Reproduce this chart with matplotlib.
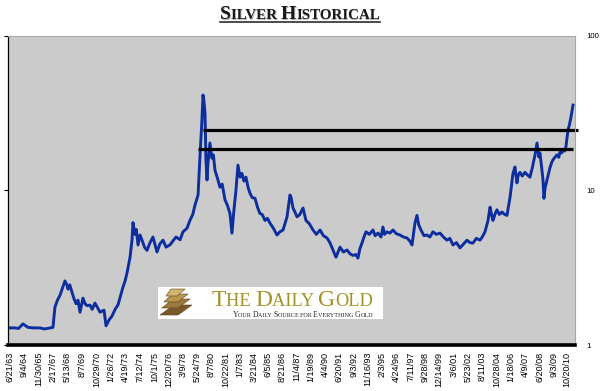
import matplotlib
matplotlib.use('Agg')
import matplotlib.pyplot as plt
from matplotlib.patches import Rectangle, Polygon
from datetime import datetime

# silver price (decimal year, $/oz)
years = [1963.30, 1963.89, 1964.20, 1964.57, 1965.00, 1965.50, 1966.02, 1966.40, 1966.87, 1967.12,
         1967.29, 1967.50, 1967.72, 1967.90, 1968.14, 1968.30, 1968.40, 1968.55, 1968.74, 1968.90,
         1969.08, 1969.25, 1969.42, 1969.67, 1969.85, 1970.01, 1970.27, 1970.45, 1970.69, 1970.90,
         1971.12, 1971.46, 1971.63, 1971.88, 1972.14, 1972.40, 1972.65, 1973.07, 1973.25, 1973.41,
         1973.67, 1973.84, 1973.92, 1974.09, 1974.20, 1974.35, 1974.52, 1974.69, 1974.90, 1975.11,
         1975.37, 1975.62, 1975.96, 1976.20, 1976.47, 1976.73, 1977.07, 1977.30, 1977.58, 1977.92,
         1978.17, 1978.51, 1978.76, 1979.00, 1979.19, 1979.45, 1979.61, 1979.78, 1979.87, 1979.95,
         1980.04, 1980.12, 1980.21, 1980.29, 1980.46, 1980.63, 1980.75, 1980.89, 1981.10, 1981.31,
         1981.50, 1981.74, 1981.95, 1982.16, 1982.33, 1982.50, 1982.67, 1982.84, 1983.02, 1983.18,
         1983.35, 1983.52, 1983.70, 1983.86, 1984.05, 1984.29, 1984.50, 1984.71, 1984.90, 1985.14,
         1985.35, 1985.56, 1985.85, 1986.16, 1986.40, 1986.67, 1987.01, 1987.26, 1987.35, 1987.52,
         1987.70, 1987.86, 1988.10, 1988.37, 1988.62, 1988.90, 1989.22, 1989.50, 1989.81, 1990.10,
         1990.41, 1990.65, 1990.91, 1991.17, 1991.35, 1991.51, 1991.80, 1992.11, 1992.35, 1992.61,
         1992.85, 1993.04, 1993.20, 1993.38, 1993.55, 1993.72, 1994.00, 1994.31, 1994.50, 1994.74,
         1995.00, 1995.16, 1995.30, 1995.50, 1995.75, 1996.01, 1996.30, 1996.61, 1996.90, 1997.20,
         1997.45, 1997.63, 1997.88, 1998.05, 1998.20, 1998.39, 1998.65, 1998.91, 1999.15, 1999.41,
         1999.70, 2000.01, 2000.30, 2000.60, 2000.85, 2001.11, 2001.40, 2001.71, 2002.00, 2002.30,
         2002.55, 2002.81, 2003.10, 2003.40, 2003.60, 2003.83, 2004.09, 2004.26, 2004.40, 2004.51,
         2004.70, 2004.85, 2005.05, 2005.28, 2005.50, 2005.70, 2005.96, 2006.21, 2006.38, 2006.55,
         2006.65, 2006.80, 2007.00, 2007.23, 2007.45, 2007.65, 2007.85, 2008.08, 2008.25, 2008.40,
         2008.50, 2008.65, 2008.76, 2008.84, 2008.95, 2009.10, 2009.25, 2009.35, 2009.50, 2009.61,
         2009.80, 2009.95, 2010.10, 2010.20, 2010.35, 2010.46, 2010.60, 2010.71, 2010.88, 2011.00,
         2011.14, 2011.31]
price = [1.29, 1.29, 1.28, 1.37, 1.30, 1.29, 1.29, 1.27, 1.29, 1.30,
         1.76, 1.95, 2.10, 2.30, 2.60, 2.45, 2.30, 2.45, 2.20, 2.00,
         1.85, 1.95, 1.63, 2.01, 1.85, 1.80, 1.81, 1.70, 1.87, 1.75,
         1.63, 1.68, 1.33, 1.45, 1.54, 1.70, 1.82, 2.37, 2.60, 2.92,
         3.70, 4.80, 6.20, 5.20, 5.60, 4.44, 5.15, 4.77, 4.30, 4.10,
         4.60, 5.00, 4.00, 4.50, 4.77, 4.30, 4.45, 4.70, 5.00, 4.80,
         5.40, 5.70, 6.40, 7.00, 8.05, 9.35, 16.5, 28.5, 41.5, 38.0,
         31.7, 15.8, 11.7, 15.0, 20.3, 16.2, 17.0, 13.5, 12.0, 10.5,
         11.0, 8.70, 8.00, 7.10, 5.30, 7.50, 10.0, 14.6, 12.2, 12.9,
         11.5, 12.2, 10.5, 9.60, 9.00, 8.90, 7.80, 7.10, 7.00, 6.40,
         6.60, 6.15, 5.70, 5.15, 5.40, 5.55, 6.75, 9.35, 9.05, 7.70,
         7.20, 6.75, 7.00, 7.70, 6.40, 6.10, 5.55, 5.20, 5.55, 5.10,
         4.93, 4.60, 4.12, 3.70, 4.00, 4.30, 4.00, 4.12, 3.90, 3.80,
         3.85, 3.65, 4.20, 4.57, 5.00, 5.40, 5.20, 5.55, 5.10, 5.30,
         5.00, 5.80, 5.20, 5.40, 5.30, 5.55, 5.25, 5.15, 5.00, 4.93,
         4.70, 4.44, 6.15, 6.90, 6.00, 5.55, 5.10, 5.15, 5.00, 5.40,
         5.20, 5.30, 5.00, 4.77, 4.90, 4.44, 4.60, 4.25, 4.50, 4.77,
         4.60, 4.57, 4.90, 4.77, 5.00, 5.40, 6.40, 7.80, 6.90, 6.40,
         7.10, 7.50, 7.00, 7.25, 7.00, 6.90, 9.05, 12.9, 14.2, 11.2,
         12.5, 13.1, 12.4, 13.1, 12.6, 12.2, 14.0, 17.0, 20.3, 16.5,
         17.5, 14.0, 11.7, 8.90, 10.5, 11.7, 13.0, 14.0, 15.2, 15.8,
         16.5, 17.0, 16.4, 17.7, 17.5, 18.3, 18.0, 19.2, 24.6, 26.5,
         29.9, 35.7]

date_labels = ['6/21/63', '9/4/64', '11/30/65', '2/17/67', '5/13/68', '8/7/69', '10/29/70', '1/26/72',
               '4/19/73', '7/12/74', '10/1/75', '12/20/76', '3/9/78', '5/24/79', '8/7/80', '10/22/81',
               '1/7/83', '3/21/84', '6/5/85', '8/21/86', '11/4/87', '1/19/89', '4/4/90', '6/20/91',
               '9/3/92', '11/16/93', '2/3/95', '4/24/96', '7/11/97', '9/28/98', '12/14/99', '3/6/01',
               '5/23/02', '8/11/03', '10/28/04', '1/18/06', '4/9/07', '6/20/08', '9/3/09', '10/20/10']

# resistance lines: (level, start year, end year)
res_upper = (24.6, 1979.87, 2011.73)
res_lower = (18.6, 1979.45, 2011.31)


def dec_year(s):
    d = datetime.strptime(s, '%m/%d/%y')
    if d.year > 2011:
        d = d.replace(year=d.year - 100)
    start = datetime(d.year, 1, 1)
    return d.year + (d - start).days / 365.25


tick_pos = [dec_year(s) for s in date_labels]

W, H = 600, 391
fig = plt.figure(figsize=(6, 3.91), dpi=100)
ax = fig.add_axes([8 / W, 1 - 345 / H, 567 / W, 309 / H])
ax.set_facecolor('#cbcbcb')

ax.plot(years, price, color='#0c2e9e', lw=2.1, solid_joinstyle='round')
ax.hlines(res_upper[0], res_upper[1], res_upper[2], color='black', lw=2.3, clip_on=False)
ax.hlines(res_lower[0], res_lower[1], res_lower[2], color='black', lw=2.3, clip_on=False)

ax.set_yscale('log')
ax.set_ylim(1, 100)
ax.set_xlim(1963.30, 2011.48)
ax.set_yticks([1, 10, 100])
ax.set_yticklabels(['1', '10', '100'])
ax.yaxis.set_minor_locator(matplotlib.ticker.NullLocator())
ax.tick_params(axis='y', left=True, right=False, labelleft=False, labelright=True,
               direction='out', length=3, width=0.8, pad=5.5, labelsize=5.6)
ax.set_xticks(tick_pos)
ax.set_xticklabels(date_labels, rotation=90, fontsize=6.5, family='Liberation Sans')
ax.tick_params(axis='x', length=0, pad=5)
for lab in ax.get_yticklabels():
    lab.set_family('Liberation Sans')

ax.spines['bottom'].set_linewidth(2.6)
ax.spines['bottom'].set_color('black')
ax.spines['left'].set_linewidth(0.9)
ax.spines['top'].set_color('#a8a8a8')
ax.spines['right'].set_color('#a8a8a8')
ax.spines['top'].set_linewidth(0.8)
ax.spines['right'].set_linewidth(0.8)


def small_caps(pieces, x0, y0, color, family, weight='normal'):
    # pieces: list of (text, size); x0,y0 in pixels (y from top), baseline
    fig.canvas.draw()
    r = fig.canvas.get_renderer()
    x = x0
    for txt, size in pieces:
        t = fig.text(x / W, 1 - y0 / H, txt, fontsize=size, color=color, family=family,
                     weight=weight, va='baseline', ha='left')
        x += t.get_window_extent(renderer=r).width
    return x


def width_of(pieces, family, weight='normal'):
    fig.canvas.draw()
    r = fig.canvas.get_renderer()
    total = 0
    for txt, size in pieces:
        t = fig.text(0, 0, txt, fontsize=size, family=family, weight=weight)
        total += t.get_window_extent(renderer=r).width
        t.remove()
    return total


# title
title = [('S', 14), ('ILVER ', 10.8), ('H', 14), ('ISTORICAL', 10.8)]
tw = width_of(title, 'Liberation Serif', 'bold')
tx = 300 - tw / 2
small_caps(title, tx + 0.8, 19.8, '#b4b4b4', 'Liberation Serif', 'bold')
small_caps(title, tx, 19, '#1a1a1a', 'Liberation Serif', 'bold')
fig.add_artist(plt.Line2D([tx / W, (tx + tw) / W], [1 - 21.5 / H, 1 - 21.5 / H],
                          color='#1a1a1a', lw=1.1))

# logo box
fig.add_artist(Rectangle((158 / W, 1 - 319 / H), 225 / W, 32 / H, facecolor='white',
                         edgecolor='none', transform=fig.transFigure))
bars = [
    [(160, 315), (178, 315), (192, 305), (174, 305)],
    [(162, 308), (178, 308), (190, 299), (173, 299)],
    [(164, 302), (178, 302), (188, 294), (172, 294)],
    [(166, 296), (177, 296), (185, 289), (171, 289)],
]
shade = ['#7a5a2a', '#9c7a3c', '#b8964e', '#d2b46a']
for pts, c in zip(bars, shade):
    fig.add_artist(Polygon([(px / W, 1 - py / H) for px, py in pts], closed=True,
                           facecolor=c, edgecolor='#5a401c', lw=0.4,
                           transform=fig.transFigure))
logo = [('T', 17), ('HE ', 13.2), ('D', 17), ('AILY ', 13.2), ('G', 17), ('OLD', 13.2)]
lw_ = width_of(logo, 'Liberation Serif')
small_caps(logo, 373 - lw_, 306, '#a39128', 'Liberation Serif')
sub = [('Y', 5.6), ('OUR ', 4.4), ('D', 5.6), ('AILY ', 4.4), ('S', 5.6), ('OURCE ', 4.4),
       ('FOR ', 4.4), ('E', 5.6), ('VERYTHING ', 4.4), ('G', 5.6), ('OLD', 4.4)]
sw = width_of(sub, 'Liberation Serif')
small_caps(sub, 373 - sw, 317, '#222222', 'Liberation Serif')

fig.savefig('out.png', dpi=100)
